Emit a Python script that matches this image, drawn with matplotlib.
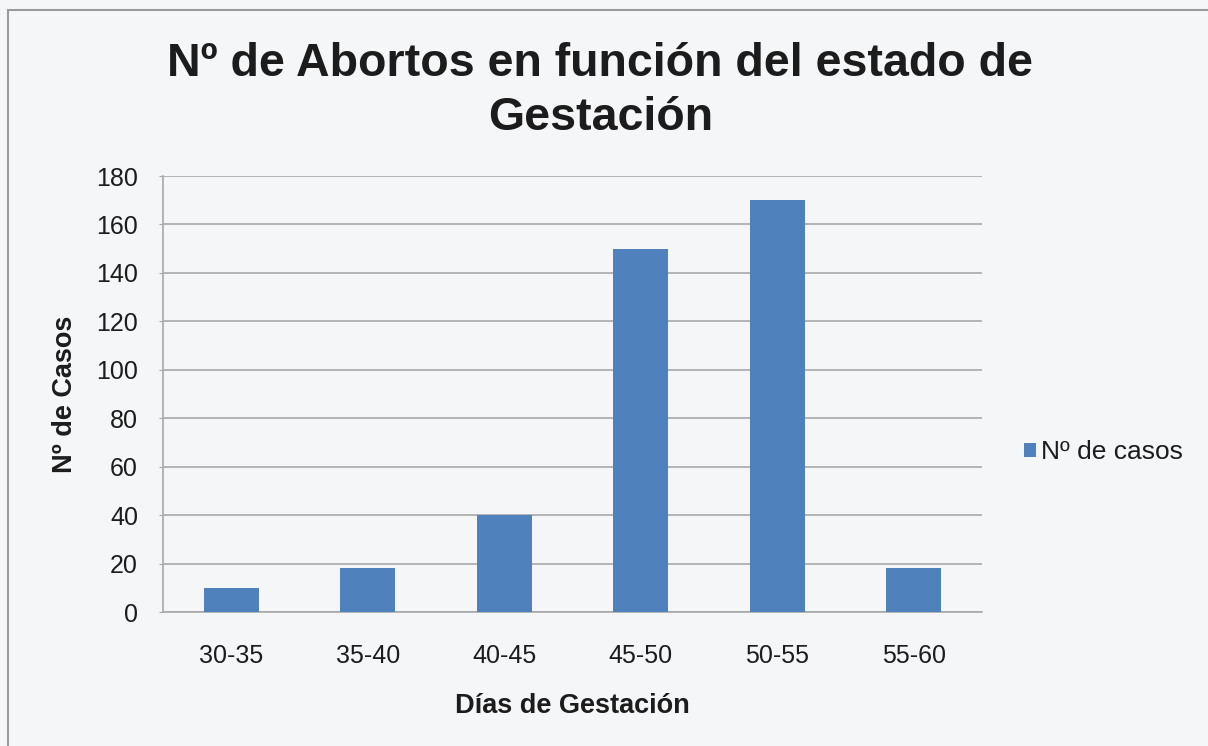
import matplotlib.pyplot as plt
from matplotlib.patches import Rectangle

plt.rcParams['font.family'] = ['Liberation Sans', 'DejaVu Sans']

categorias = ['30-35', '35-40', '40-45', '45-50', '50-55', '55-60']
casos = [10, 18, 40, 150, 170, 18]
serie = 'Nº de casos'

BG = '#f4f6f8'
BAR = '#4f81bd'
GRID = '#a9a9a9'
TXT = '#1c1c1c'

fig = plt.figure(figsize=(12.08, 7.46), dpi=100, facecolor=BG)

# marco exterior del gráfico (solo se ven el borde superior y el izquierdo)
fig.patches.append(Rectangle((8 / 1208, -0.1), 1.2, 1.1 - 10 / 746, transform=fig.transFigure,
                             fill=False, edgecolor='#9a9a9a', linewidth=1.5))

ax = fig.add_axes([163 / 1208, 1 - 612 / 746, 819 / 1208, 436 / 746])
ax.set_facecolor(BG)

x = range(len(categorias))
ax.bar(x, casos, width=0.4, color=BAR, label=serie, zorder=3)

ax.set_xlim(-0.5, len(categorias) - 0.5)
ax.set_ylim(0, 180)
ax.set_yticks(range(0, 181, 20))
ax.set_xticks(list(x))
ax.set_xticklabels(categorias)
ax.grid(axis='y', color=GRID, linewidth=1.2, zorder=0)

for s in ['top', 'right']:
    ax.spines[s].set_visible(False)
ax.spines['left'].set_color(GRID)
ax.spines['bottom'].set_color(GRID)
ax.spines['left'].set_linewidth(1.2)
ax.spines['bottom'].set_linewidth(1.2)

ax.tick_params(axis='y', length=3, color=GRID, labelsize=18, pad=15, labelcolor=TXT)
ax.tick_params(axis='x', length=0, labelsize=18, pad=23, labelcolor=TXT)

ax.set_ylabel('Nº de Casos', fontsize=19.5, fontweight='bold', labelpad=13, color=TXT)
ax.set_xlabel('Días de Gestación', fontsize=19.5, fontweight='bold', labelpad=18, color=TXT)

fig.text(0.497, 1 - 91 / 746, 'Nº de Abortos en función del estado de\nGestación',
         ha='center', va='center', fontsize=33.5, fontweight='bold',
         linespacing=1.32, color=TXT)

fig.legend(loc='center left', bbox_to_anchor=(1000 / 1208, 1 - 452 / 746),
           frameon=False, fontsize=19, handlelength=0.45, handleheight=0.45,
           handletextpad=0.2, labelcolor=TXT)

fig.savefig('out.png', dpi=100, facecolor=BG)
